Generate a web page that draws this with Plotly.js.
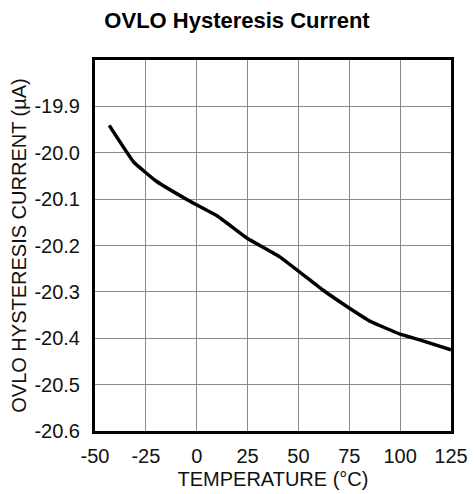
<!DOCTYPE html>
<html>
<head>
<meta charset="utf-8">
<script src="https://cdn.plot.ly/plotly-3.0.1.min.js"></script>
<style>html,body{margin:0;padding:0;background:#fff;}#chart{width:474px;height:494px;}</style>
</head>
<body>
<div id="chart"></div>
<script>
const temperature = [-43, -31, -20, -4, 10, 25, 41, 62, 74, 85.5, 100, 110, 125];
const current = [-19.941, -20.02, -20.061, -20.103, -20.136, -20.185, -20.225, -20.296, -20.332, -20.364, -20.391, -20.404, -20.425];
const xTicks = [-50, -25, 0, 25, 50, 75, 100, 125];
const yTicks = [-20.6, -20.5, -20.4, -20.3, -20.2, -20.1, -20.0, -19.9];
const yTickText = ["-20.6", "-20.5", "-20.4", "-20.3", "-20.2", "-20.1", "-20.0", "-19.9"];

const font = "Liberation Sans, Arial, Helvetica, sans-serif";
Plotly.newPlot('chart', [{
  x: temperature, y: current, type: 'scatter', mode: 'lines',
  line: {color: '#000', width: 3.5, shape: 'spline', smoothing: 0.3},
  hoverinfo: 'skip'
}], {
  width: 474, height: 494,
  margin: {l: 95, r: 23, t: 60, b: 63, pad: 0},
  paper_bgcolor: '#fff', plot_bgcolor: '#fff',
  showlegend: false,
  title: {text: '<b>OVLO Hysteresis Current</b>', font: {family: font, size: 22, color: '#000'}, x: 0.5, xanchor: 'center', y: 0.958, yanchor: 'middle'},
  xaxis: {
    range: [-50, 125], tickvals: xTicks, ticktext: xTicks.map(String),
    showgrid: true, gridcolor: '#8a8a8a', gridwidth: 1, zeroline: false,
    showline: true, linecolor: '#000', linewidth: 3, mirror: true,
    ticks: '', ticklabelstandoff: 5,
    tickfont: {family: font, size: 20, color: '#111'},
    title: {text: 'TEMPERATURE (°C)', font: {family: font, size: 20, color: '#111'}, standoff: 6}
  },
  yaxis: {
    range: [-20.6, -19.8], tickvals: yTicks, ticktext: yTickText,
    showgrid: true, gridcolor: '#8a8a8a', gridwidth: 1, zeroline: false,
    showline: true, linecolor: '#000', linewidth: 3, mirror: true,
    ticks: '', ticklabelstandoff: 8,
    tickfont: {family: font, size: 20, color: '#111'},
    title: {text: 'OVLO HYSTERESIS CURRENT (µA)', font: {family: font, size: 20, color: '#111'}, standoff: 3}
  }
}, {staticPlot: true, displayModeBar: false});
</script>
</body>
</html>
